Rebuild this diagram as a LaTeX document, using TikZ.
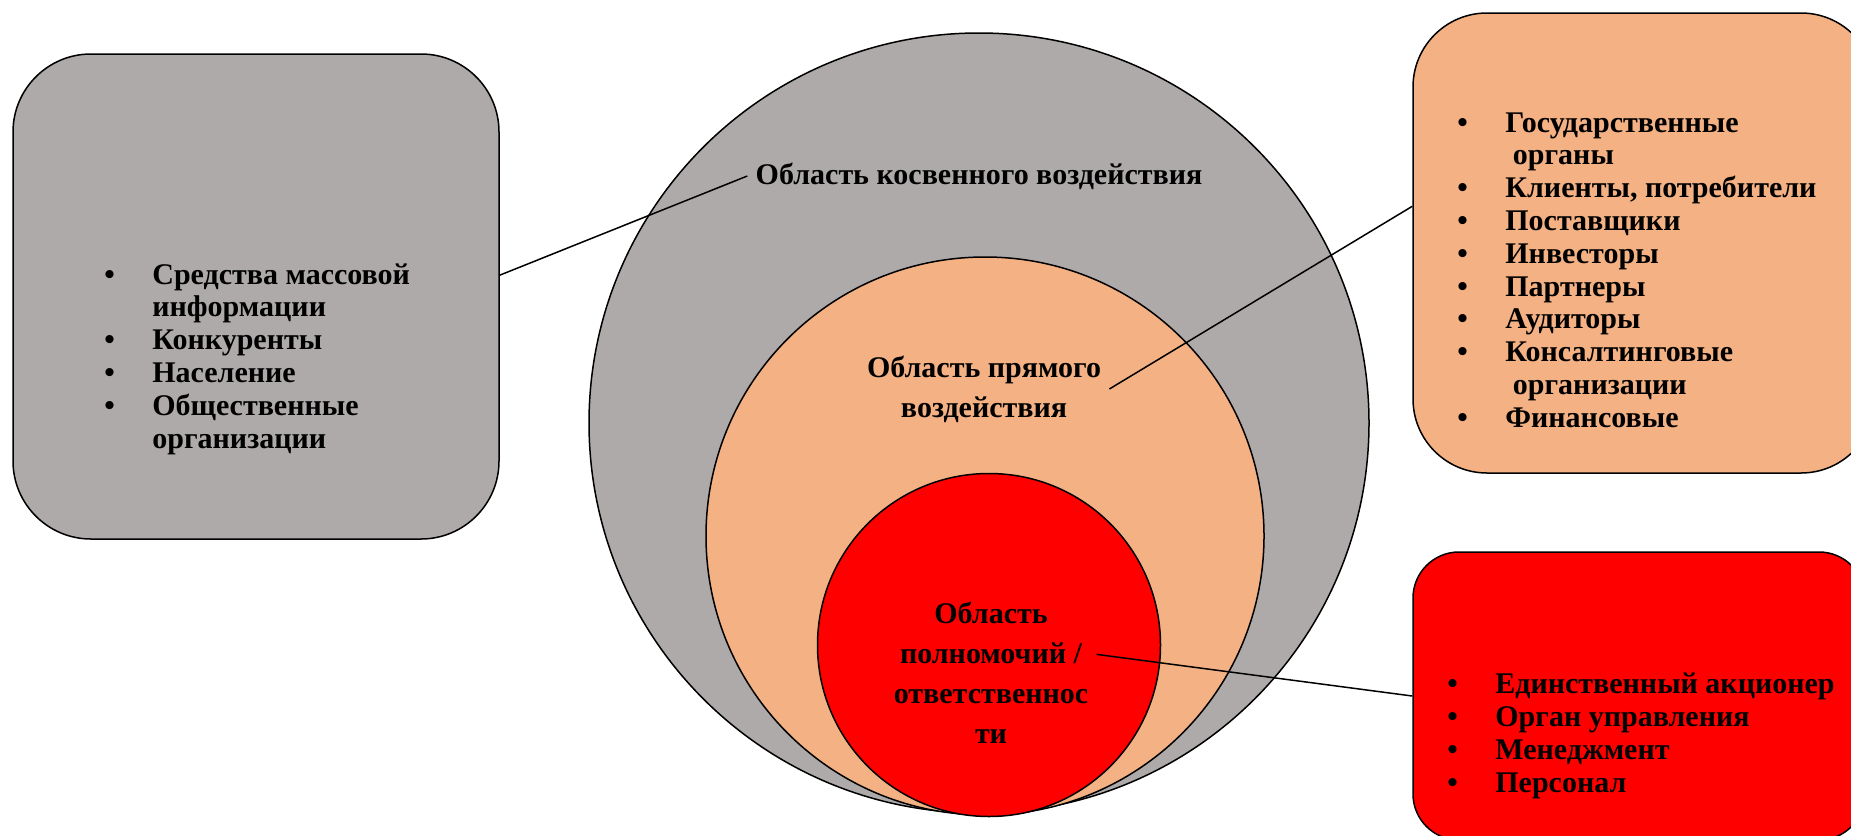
\documentclass[tikz,border=0pt]{standalone}
\usepackage{fontspec}
\setmainfont{Liberation Serif}

\definecolor{zonegray}{RGB}{174,170,169}
\definecolor{zonepeach}{RGB}{244,177,131}
\definecolor{zonered}{RGB}{255,0,0}

\tikzstyle{widefig}=[x=0.5pt,y=-0.5pt]
\tikzstyle{zone}=[circle,draw,line width=0.75pt,inner sep=0pt]
\tikzstyle{group}=[rectangle,draw,line width=0.75pt,inner sep=0pt]
\tikzstyle{caption}=[font=\bfseries\fontsize{15}{20}\selectfont,align=center,inner sep=4pt]
\tikzstyle{members}=[font=\bfseries\fontsize{15}{16.4}\selectfont,align=left,anchor=west,inner sep=0pt]
\tikzstyle{lead}=[line width=0.75pt]

\newlength{\bulw}\setlength{\bulw}{24pt}
\newcommand{\itm}[1]{\makebox[\bulw][l]{•}#1}
\newcommand{\cnt}[1]{\hspace*{\bulw}#1}

\begin{document}
\begin{tikzpicture}[style=widefig]
\useasboundingbox (0,0) rectangle (1851,835);
\clip (0,0) rectangle (1851,835);

\foreach \name/\x/\y/\d/\col in {indirectzone/979/423/390/zonegray,
    directzone/985/536/279/zonepeach, authzone/989/645/171.5/zonered}{% zones
    \node[zone,fill=\col,minimum size=\d pt] (\name) at (\x,\y) {};
}

% groups of stakeholders
\node[group,fill=zonegray,rounded corners=39pt,minimum width=243pt,minimum height=242.5pt] (lbox) at (256,296.5) {};
\node[group,fill=zonepeach,rounded corners=37pt,minimum width=231pt,minimum height=230pt] (tbox) at (1644,243) {};
\node[group,fill=zonered,rounded corners=23pt,minimum width=226pt,minimum height=144pt] (rbox) at (1639,696) {};

\node[members] (lmembers) at (104,359) {\itm{Средства массовой}\\\cnt{информации}\\\itm{Конкуренты}\\
    \itm{Население}\\\itm{Общественные}\\\cnt{организации}};
\node[members] (tmembers) at (1457,270) {\itm{Государственные}\\\cnt{\ органы}\\\itm{Клиенты, потребители}\\
    \itm{Поставщики}\\\itm{Инвесторы}\\\itm{Партнеры}\\\itm{Аудиторы}\\\itm{Консалтинговые}\\
    \cnt{\ организации}\\\itm{Финансовые}};
\node[members] (rmembers) at (1447,736) {\itm{Единственный акционер}\\\itm{Орган управления}\\
    \itm{Менеджмент}\\\itm{Персонал}};

% zone captions
\node[caption] (kosvtext) at (979,176) {Область косвенного воздействия};
\node[caption] (directtext) at (984,389) {Область прямого\\воздействия};
\node[caption] (authtext) at (991,673) {Область\\полномочий /\\ответственнос\\ти};

\draw[lead] (lbox.5.5) -- (kosvtext.west);
\draw[lead] (tbox.171) -- (directtext.east);
\draw[lead] (rbox.west) -- (authtext.10);

\end{tikzpicture}
\end{document}
